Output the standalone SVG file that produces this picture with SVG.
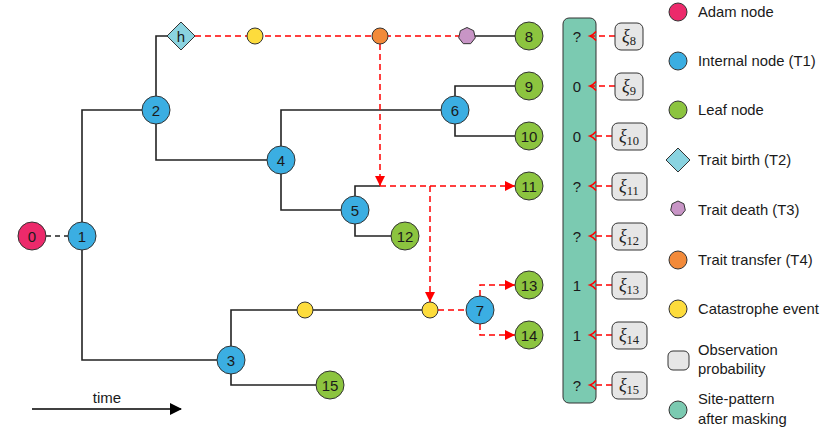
<svg xmlns="http://www.w3.org/2000/svg" width="830" height="432" viewBox="0 0 830 432">
<style>
text{font-family:"Liberation Sans","DejaVu Sans",sans-serif;fill:#1a1a1a}
.nl{font-size:15px;text-anchor:middle}
.lg{font-size:14.8px}
.n{stroke:#333;stroke-width:1}
.adam{fill:#EC2A6B}
.int{fill:#3BAEE2}
.leaf{fill:#8CC43F}
.birth{fill:#8AD3E0}
.death{fill:#C895C6}
.trans{fill:#F28A3A}
.cat{fill:#FDDC3C}
.obs{fill:#E6E6E6}
.site{fill:#7BCAB1}
.br{fill:none;stroke:#222;stroke-width:1.6}
.rd{fill:none;stroke:#F00;stroke-width:1.5;stroke-dasharray:6 4}
.xi{font-family:"Liberation Serif","DejaVu Serif",serif;font-size:18px;font-style:italic;text-anchor:middle;fill:#222}
.sub{font-style:normal;font-size:12.5px}
</style>
<defs>
<marker id="ra" markerWidth="10" markerHeight="10" refX="10" refY="5" orient="auto" markerUnits="userSpaceOnUse"><path d="M0,0 L10,5 L0,10 z" fill="#F00"/></marker>
<marker id="ro" markerWidth="10" markerHeight="12" refX="7" refY="6" orient="auto" markerUnits="userSpaceOnUse"><path d="M1,1.5 Q4,5 7,6 Q4,7 1,10.5" fill="none" stroke="#F00" stroke-width="1.6"/></marker>
<marker id="ba" markerWidth="12" markerHeight="12" refX="11" refY="6" orient="auto" markerUnits="userSpaceOnUse"><path d="M0,0 L12,6 L0,12 z" fill="#000"/></marker>
</defs>

<g id="connectors">
<line x1="46" y1="236" x2="68" y2="236" stroke="#222" stroke-width="1.5" stroke-dasharray="5 4"/>
<path class="br" d="M156,110 H82 V360 H217"/>
<path class="br" d="M167,36 H156 V160 H267"/>
<path class="br" d="M455,110 H281 V210 H341"/>
<path class="br" d="M515,86 H455 V136 H515"/>
<path class="br" d="M380,186 H355 V236 H391"/>
<path class="br" d="M422,310 H231 V385 H316"/>
<path class="br" d="M475,36 H515"/>
<path class="rd" d="M195,36 H459"/>
<path class="rd" d="M380,44 V186" marker-end="url(#ra)"/>
<path class="rd" d="M380,186 H515" marker-end="url(#ra)"/>
<path class="rd" d="M430,186 V302" marker-end="url(#ra)"/>
<path class="rd" d="M438,310 H466"/>
<path class="rd" d="M480,296 V285 H515" marker-end="url(#ra)"/>
<path class="rd" d="M480,324 V335 H515" marker-end="url(#ra)"/>
</g>

<g id="node0"><circle class="n adam" cx="32" cy="236" r="14"/><text class="nl" x="32" y="241.5">0</text></g>
<g id="node1"><circle class="n int" cx="82" cy="236" r="14"/><text class="nl" x="82" y="241.5">1</text></g>
<g id="node2"><circle class="n int" cx="156" cy="110" r="14"/><text class="nl" x="156" y="115.5">2</text></g>
<g id="node3"><circle class="n int" cx="231" cy="360" r="14"/><text class="nl" x="231" y="365.5">3</text></g>
<g id="node4"><circle class="n int" cx="281" cy="160" r="14"/><text class="nl" x="281" y="165.5">4</text></g>
<g id="node5"><circle class="n int" cx="355" cy="210" r="14"/><text class="nl" x="355" y="215.5">5</text></g>
<g id="node6"><circle class="n int" cx="455" cy="110" r="14"/><text class="nl" x="455" y="115.5">6</text></g>
<g id="node7"><circle class="n int" cx="480" cy="310" r="14"/><text class="nl" x="480" y="315.5">7</text></g>
<g id="node8"><circle class="n leaf" cx="529" cy="36" r="14"/><text class="nl" x="529" y="41.5">8</text></g>
<g id="node9"><circle class="n leaf" cx="529" cy="86" r="14"/><text class="nl" x="529" y="91.5">9</text></g>
<g id="node10"><circle class="n leaf" cx="529" cy="136" r="14"/><text class="nl" x="529" y="141.5">10</text></g>
<g id="node11"><circle class="n leaf" cx="529" cy="186" r="14"/><text class="nl" x="529" y="191.5">11</text></g>
<g id="node12"><circle class="n leaf" cx="405" cy="236" r="14"/><text class="nl" x="405" y="241.5">12</text></g>
<g id="node13"><circle class="n leaf" cx="529" cy="285" r="14"/><text class="nl" x="529" y="290.5">13</text></g>
<g id="node14"><circle class="n leaf" cx="529" cy="335" r="14"/><text class="nl" x="529" y="340.5">14</text></g>
<g id="node15"><circle class="n leaf" cx="330" cy="385" r="14"/><text class="nl" x="330" y="390.5">15</text></g>

<g id="birth"><path class="n birth" d="M181,22 L195,36 L181,50 L167,36 z"/><text class="nl" x="181" y="41.5">h</text></g>
<g id="cat1"><circle class="n cat" cx="255" cy="36" r="8"/></g>
<g id="transfer"><circle class="n trans" cx="380" cy="36" r="8"/></g>
<g id="death"><polygon class="n death" points="467,27.5 473.65,30.7 475.29,37.89 470.69,43.66 463.31,43.66 458.71,37.89 460.35,30.7"/></g>
<g id="cat2"><circle class="n cat" cx="305" cy="310" r="8"/></g>
<g id="cat3"><circle class="n cat" cx="430" cy="310" r="8"/></g>

<g id="sitepattern">
<rect class="n site" x="563" y="18" width="33" height="385" rx="6"/>
<text class="nl" x="577" y="41.5">?</text>
<text class="nl" x="577" y="91.5">0</text>
<text class="nl" x="577" y="141.5">0</text>
<text class="nl" x="577" y="191.5">?</text>
<text class="nl" x="577" y="241.5">?</text>
<text class="nl" x="577" y="290.5">1</text>
<text class="nl" x="577" y="340.5">1</text>
<text class="nl" x="577" y="390.5">?</text>
</g>

<g id="obs-links">
<path class="rd" d="M615,36 H590" marker-end="url(#ro)"/>
<path class="rd" d="M615,86 H590" marker-end="url(#ro)"/>
<path class="rd" d="M612,136 H590" marker-end="url(#ro)"/>
<path class="rd" d="M612,186 H590" marker-end="url(#ro)"/>
<path class="rd" d="M612,236 H590" marker-end="url(#ro)"/>
<path class="rd" d="M612,285 H590" marker-end="url(#ro)"/>
<path class="rd" d="M612,335 H590" marker-end="url(#ro)"/>
<path class="rd" d="M612,385 H590" marker-end="url(#ro)"/>
</g>

<g id="obs8"><rect class="n obs" x="615" y="23" width="28" height="27" rx="6"/><text class="xi" x="629" y="42">ξ<tspan class="sub" dy="3">8</tspan></text></g>
<g id="obs9"><rect class="n obs" x="615" y="73" width="28" height="27" rx="6"/><text class="xi" x="629" y="92">ξ<tspan class="sub" dy="3">9</tspan></text></g>
<g id="obs10"><rect class="n obs" x="612" y="123" width="35" height="27" rx="6"/><text class="xi" x="629" y="142">ξ<tspan class="sub" dy="3">10</tspan></text></g>
<g id="obs11"><rect class="n obs" x="612" y="173" width="35" height="27" rx="6"/><text class="xi" x="629" y="192">ξ<tspan class="sub" dy="3">11</tspan></text></g>
<g id="obs12"><rect class="n obs" x="612" y="223" width="35" height="27" rx="6"/><text class="xi" x="629" y="242">ξ<tspan class="sub" dy="3">12</tspan></text></g>
<g id="obs13"><rect class="n obs" x="612" y="272" width="35" height="27" rx="6"/><text class="xi" x="629" y="291">ξ<tspan class="sub" dy="3">13</tspan></text></g>
<g id="obs14"><rect class="n obs" x="612" y="322" width="35" height="27" rx="6"/><text class="xi" x="629" y="341">ξ<tspan class="sub" dy="3">14</tspan></text></g>
<g id="obs15"><rect class="n obs" x="612" y="372" width="35" height="27" rx="6"/><text class="xi" x="629" y="391">ξ<tspan class="sub" dy="3">15</tspan></text></g>

<g id="time">
<line x1="32" y1="409" x2="181" y2="409" stroke="#000" stroke-width="1.6" marker-end="url(#ba)"/>
<text x="107" y="403" text-anchor="middle" font-size="15">time</text>
</g>

<g id="legend">
<circle class="n adam" cx="678" cy="12" r="9"/><text class="lg" x="698" y="17">Adam node</text>
<circle class="n int" cx="678" cy="61" r="9"/><text class="lg" x="698" y="66">Internal node (T1)</text>
<circle class="n leaf" cx="678" cy="110" r="9"/><text class="lg" x="698" y="115">Leaf node</text>
<path class="n birth" d="M678,148 L690,160 L678,172 L666,160 z"/><text class="lg" x="698" y="165">Trait birth (T2)</text>
<polygon class="n death" points="678,201 683.9,203.8 685.3,210.2 681.3,215.3 674.7,215.3 670.7,210.2 672.1,203.8"/><text class="lg" x="698" y="215">Trait death (T3)</text>
<circle class="n trans" cx="678" cy="260" r="9"/><text class="lg" x="698" y="265">Trait transfer (T4)</text>
<circle class="n cat" cx="678" cy="309" r="9"/><text class="lg" x="698" y="314">Catastrophe event</text>
<rect class="n obs" x="668" y="351" width="21" height="19" rx="5"/><text class="lg" x="698" y="355">Observation</text><text class="lg" x="698" y="374">probability</text>
<circle class="n site" cx="678" cy="410" r="9"/><text class="lg" x="698" y="404">Site-pattern</text><text class="lg" x="698" y="424">after masking</text>
</g>
</svg>
